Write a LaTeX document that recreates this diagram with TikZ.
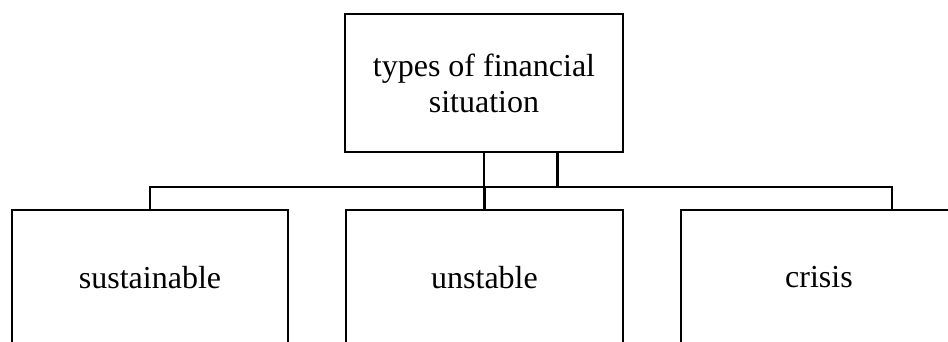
\documentclass[tikz,border=0pt]{standalone}
\usepackage{fontspec}
\setmainfont{Liberation Serif}
\begin{document}
\begin{tikzpicture}[x=1pt,y=-1pt,
  box/.style={draw,line width=2.4pt,rectangle,inner sep=0pt,align=center,
    font=\fontsize{32}{36}\selectfont},
  link/.style={line width=2.2pt}]
\useasboundingbox (0,0) rectangle (948,342);
\clip (0,0) rectangle (948,342);
% top box
\node[box,minimum width=278pt,minimum height=138pt] (top) at (484,83)
  {types of financial\\situation};
% lower boxes (run past the lower edge)
\node[box,minimum width=276pt,minimum height=135pt] (sust) at (150,277.5) {sustainable};
\node[box,minimum width=277pt,minimum height=135pt] (unst) at (484.5,277.5) {unstable};
\node[box,minimum width=276pt,minimum height=135pt] (cris) at (819,277.5) {crisis};
% bus line and drops
\coordinate (bus) at (0,187);
\coordinate (tdrop) at ([xshift=73.5pt]top.south);
\coordinate (rdrop) at ([xshift=73pt]cris.north);
\draw[link] (top.south) -- (top.south |- bus);
\draw[link] (tdrop) -- (tdrop |- bus);
\draw[link] (sust.north) -- (sust.north |- bus) -- (rdrop |- bus) -- (rdrop);
\draw[link] (unst.north |- bus) -- (unst.north);
\end{tikzpicture}
\end{document}
